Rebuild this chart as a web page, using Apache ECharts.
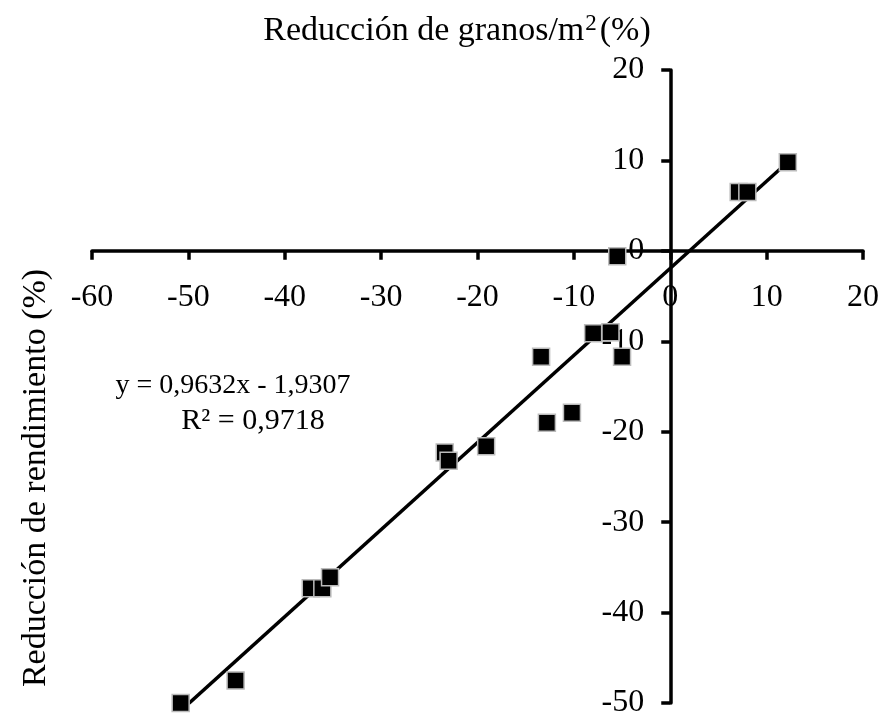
<!DOCTYPE html>
<html><head><meta charset="utf-8">
<script src="https://cdn.jsdelivr.net/npm/echarts@6/dist/echarts.min.js"></script>
<style>html,body{margin:0;padding:0;background:#fff}#c{width:887px;height:722px}</style>
</head><body><div id="c"></div>
<script>
const xValues = [-50.8,-45.1,-37.3,-36.1,-35.3,-23.4,-23.0,-19.1,-13.4,-12.8,-10.2,-8.0,-6.2,-5.0,-5.5,7.1,8.0,12.2];
const yValues = [-50.0,-47.5,-37.3,-37.3,-36.1,-22.3,-23.2,-21.6,-11.7,-19.0,-17.9,-9.1,-9.0,-11.7,-0.6,6.5,6.5,9.8];
const slope = 0.9632, intercept = -1.9307;
const xTicks = {min:-60, max:20, step:10};
const yTicks = {min:-50, max:20, step:10};
const xTitle = 'Reducción de granos/m';
const yTitle = 'Reducción de rendimiento (%)';
const eqText = 'y = 0,9632x - 1,9307';
const r2Text = 'R² = 0,9718';

const W = 887, H = 722;
const grid = {left:92, right:24, top:70, bottom:19};
const gw = W - grid.left - grid.right, gh = H - grid.top - grid.bottom;
const xAxisOffset = -gh * (0 - yTicks.min) / (yTicks.max - yTicks.min);
const yAxisOffset = -gw * (0 - xTicks.min) / (xTicks.max - xTicks.min);

const pts = xValues.map((x,i)=>[x,yValues[i]]);
const xmin = Math.min(...xValues), xmax = Math.max(...xValues);
const trend = [[xmin, slope*xmin+intercept],[xmax, slope*xmax+intercept]];
const font = '"Liberation Serif","Times New Roman",serif';
const chart = echarts.init(document.getElementById('c'));
chart.setOption({
  animation:false,
  grid:Object.assign({containLabel:false}, grid),
  xAxis:{type:'value',min:xTicks.min,max:xTicks.max,interval:xTicks.step,position:'bottom',offset:xAxisOffset,
    axisLine:{onZero:false,lineStyle:{color:'#000',width:3.5}},
    axisTick:{show:true,length:9,lineStyle:{color:'#000',width:3.5}},
    axisLabel:{color:'#000',fontFamily:font,fontSize:32,margin:31},
    splitLine:{show:false}},
  yAxis:{type:'value',min:yTicks.min,max:yTicks.max,interval:yTicks.step,position:'left',offset:yAxisOffset,
    axisLine:{onZero:false,lineStyle:{color:'#000',width:3.5}},
    axisTick:{show:true,length:9,lineStyle:{color:'#000',width:3.5}},
    axisLabel:{color:'#000',fontFamily:font,fontSize:32,margin:26},
    splitLine:{show:false}},
  series:[
    {type:'line',data:trend,symbol:'none',lineStyle:{color:'#000',width:3.5},clip:true,z:2},
    {type:'scatter',data:pts,symbol:'rect',symbolSize:17,
     itemStyle:{color:'#000',opacity:1,borderColor:'#bbb',borderWidth:1.5},z:3}
  ],
  graphic:[
    {type:'text',x:457,y:31,style:{
      text:'{a|'+xTitle+'}{s|2}{a|(%)}',
      rich:{a:{fontFamily:font,fontSize:34,fill:'#000'},s:{fontFamily:font,fontSize:23,fill:'#000',padding:[0,3,14,1]}},
      align:'center',verticalAlign:'middle'}},
    {type:'text',x:36,y:478,rotation:Math.PI/2,style:{text:yTitle,fontFamily:font,fontSize:34,fill:'#000',align:'center',verticalAlign:'middle'}},
    {type:'text',x:233,y:386,style:{text:eqText,fontFamily:font,fontSize:28,fill:'#000',align:'center',verticalAlign:'middle'}},
    {type:'text',x:253,y:421,style:{text:r2Text,fontFamily:font,fontSize:30,fill:'#000',align:'center',verticalAlign:'middle'}}
  ]
});
</script></body></html>
